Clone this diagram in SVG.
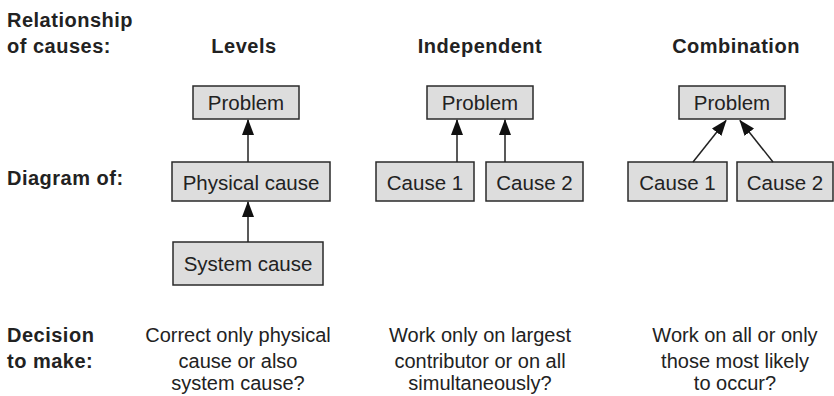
<svg xmlns="http://www.w3.org/2000/svg" width="834" height="396" viewBox="0 0 834 396">
  <style>
    .hdr { font-family: "Liberation Sans", Arial, sans-serif; font-weight: bold; font-size: 20px; fill: #222; letter-spacing: 0.5px; }
    .box rect { fill: #dddddd; stroke: #2a2a2a; stroke-width: 1.5; }
    .box text { font-family: "Liberation Sans", Arial, sans-serif; font-size: 20.5px; fill: #222; text-anchor: middle; }
    .note { font-family: "Liberation Sans", Arial, sans-serif; font-size: 20px; fill: #222; text-anchor: middle; }
    .conn line { stroke: #222; stroke-width: 1.5; marker-end: url(#arrowhead); }
  </style>
  <defs>
    <marker id="arrowhead" markerUnits="userSpaceOnUse" markerWidth="16" markerHeight="12" viewBox="0 0 16 12" refX="15" refY="6" orient="auto">
      <path d="M0,0 L16,6 L0,12 Z" fill="#111"/>
    </marker>
  </defs>

  <!-- row labels -->
  <g id="row-labels">
    <text class="hdr" x="7" y="27">Relationship</text>
    <text class="hdr" x="7" y="53">of causes:</text>
    <text class="hdr" x="7" y="185">Diagram of:</text>
    <text class="hdr" x="7" y="342">Decision</text>
    <text class="hdr" x="7" y="368">to make:</text>
  </g>

  <!-- column headings -->
  <g id="col-headings">
    <text class="hdr" x="244" y="53" text-anchor="middle">Levels</text>
    <text class="hdr" x="480" y="53" text-anchor="middle">Independent</text>
    <text class="hdr" x="736" y="53" text-anchor="middle">Combination</text>
  </g>

  <!-- Levels column -->
  <g id="levels-problem" class="box">
    <rect x="193" y="86" width="106" height="33"/>
    <text x="246" y="109.5">Problem</text>
  </g>
  <g id="levels-physical" class="box">
    <rect x="172" y="162" width="158" height="39"/>
    <text x="251" y="189.5">Physical cause</text>
  </g>
  <g id="levels-system" class="box">
    <rect x="173" y="242" width="150" height="43"/>
    <text x="248" y="270.5">System cause</text>
  </g>

  <!-- Independent column -->
  <g id="indep-problem" class="box">
    <rect x="427" y="86" width="106" height="33"/>
    <text x="480" y="109.5">Problem</text>
  </g>
  <g id="indep-cause1" class="box">
    <rect x="376" y="162" width="98" height="39"/>
    <text x="425" y="189.5">Cause 1</text>
  </g>
  <g id="indep-cause2" class="box">
    <rect x="486" y="162" width="97" height="39"/>
    <text x="534.5" y="189.5">Cause 2</text>
  </g>

  <!-- Combination column -->
  <g id="comb-problem" class="box">
    <rect x="679" y="86" width="106" height="33"/>
    <text x="732" y="109.5">Problem</text>
  </g>
  <g id="comb-cause1" class="box">
    <rect x="628" y="162" width="99" height="39"/>
    <text x="677.5" y="189.5">Cause 1</text>
  </g>
  <g id="comb-cause2" class="box">
    <rect x="737" y="162" width="96" height="39"/>
    <text x="785" y="189.5">Cause 2</text>
  </g>

  <!-- connectors: cause to problem -->
  <g id="connectors" class="conn">
    <line x1="248" y1="162" x2="248" y2="120"/>
    <line x1="248" y1="242" x2="248" y2="202"/>
    <line x1="457" y1="162" x2="457" y2="120"/>
    <line x1="505" y1="162" x2="505" y2="120"/>
    <line x1="693" y1="162" x2="726" y2="120.5"/>
    <line x1="773" y1="162" x2="740" y2="120.5"/>
  </g>

  <!-- decision notes -->
  <g id="notes">
    <text class="note" x="238" y="342">Correct only physical</text>
    <text class="note" x="238" y="368">cause or also</text>
    <text class="note" x="238" y="390">system cause?</text>
    <text class="note" x="480" y="342">Work only on largest</text>
    <text class="note" x="480" y="368">contributor or on all</text>
    <text class="note" x="480" y="390">simultaneously?</text>
    <text class="note" x="735" y="342">Work on all or only</text>
    <text class="note" x="735" y="368">those most likely</text>
    <text class="note" x="735" y="390">to occur?</text>
  </g>
</svg>
